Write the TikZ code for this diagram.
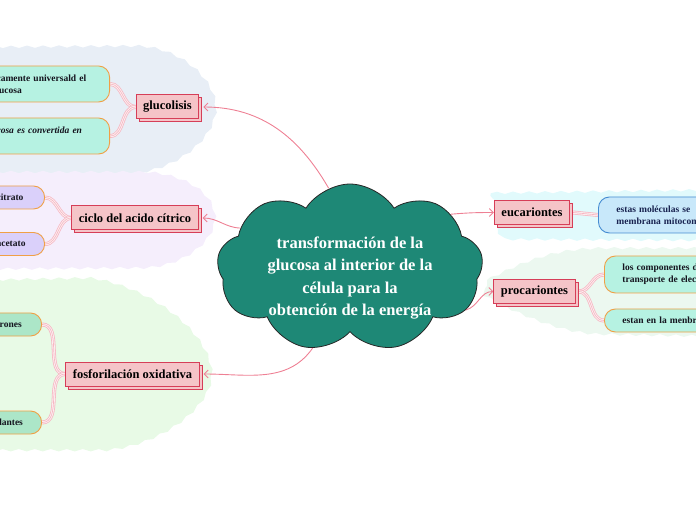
\documentclass[tikz,border=0pt]{standalone}
\usepackage{fontspec}
\setmainfont{Liberation Serif}
\usetikzlibrary{shapes.symbols, arrows.meta, shadows, decorations.pathmorphing, backgrounds}
\definecolor{corecolor}{RGB}{30,136,118}
\definecolor{topiccolor}{RGB}{245,196,200}
\definecolor{topicborder}{RGB}{214,62,88}
\definecolor{linkcolor}{RGB}{238,128,148}
\definecolor{leafborder}{RGB}{240,160,70}
\definecolor{mintleaf}{RGB}{182,242,226}
\definecolor{lilacleaf}{RGB}{218,208,250}
\definecolor{greenleaf}{RGB}{172,230,200}
\definecolor{blueleaf}{RGB}{200,232,250}
\definecolor{blueborder}{RGB}{70,140,210}
\definecolor{leaftext}{RGB}{20,20,30}
\definecolor{navytext}{RGB}{25,35,80}
\definecolor{bggluc}{RGB}{232,238,246}
\definecolor{bgciclo}{RGB}{245,238,252}
\definecolor{bgfosfo}{RGB}{232,250,230}
\definecolor{bgeuca}{RGB}{225,250,252}
\definecolor{bgproca}{RGB}{236,248,240}
\tikzset{
  core/.style={cloud, cloud puffs=9, cloud puff arc=115, aspect=1.55, minimum width=266pt, minimum height=168pt, fill=corecolor, draw=black!85, line width=0.8pt},
  coretext/.style={text=white, align=center, font=\bfseries\fontsize{16.5}{22.5}\selectfont},
  topic/.style={rectangle, fill=topiccolor, draw=topicborder, line width=1pt, minimum height=24pt, inner xsep=7pt, font=\bfseries\fontsize{12.5}{14}\selectfont, copy shadow={shadow xshift=3pt, shadow yshift=-3pt}},
  leaf/.style={rectangle, rounded corners=11pt, draw=leafborder, line width=0.9pt, align=left, inner xsep=16pt, inner ysep=2pt, text=leaftext, font=\bfseries\fontsize{9.5}{12}\selectfont},
  mintleaf/.style={leaf, fill=mintleaf},
  lilacleaf/.style={leaf, fill=lilacleaf},
  greenleaf/.style={leaf, fill=greenleaf},
  blueleaf/.style={leaf, fill=blueleaf, draw=blueborder, text=navytext},
  link/.style={-{Straight Barb[length=4pt, width=8pt]}, draw=linkcolor, line width=0.9pt},
  branch/.style={draw=linkcolor!55, line width=4pt, postaction={draw=linkcolor!12, line width=2.4pt}, postaction={draw=linkcolor!55, line width=0.7pt}},
  wavy/.style={decorate, decoration={snake, amplitude=1.2pt, segment length=16pt}}
}

\begin{document}
\begin{tikzpicture}[x=1pt, y=1pt]
  \useasboundingbox (0,0) rectangle (696,520);

  % fondos de cada rama
  \begin{scope}[on background layer]
    \fill[bggluc, wavy] (-10,473) -- (135,474) .. controls (178,472) and (212,440) .. (212,412) .. controls (212,382) and (172,347) .. (120,346) -- (-10,346) -- cycle;
    \fill[bgciclo, wavy] (-10,348) -- (140,348) .. controls (182,346) and (211,326) .. (211,302) .. controls (211,280) and (182,254) .. (140,252) -- (-10,251) -- cycle;
    \fill[bgfosfo, wavy] (-10,240) -- (90,242) .. controls (150,232) and (208,186) .. (208,146) .. controls (208,115) and (160,75) .. (100,70) -- (-10,70) -- cycle;
    \fill[bgeuca, wavy] (492,327) -- (706,330) -- (706,282) -- (492,283) .. controls (484,290) and (484,320) .. (492,327) -- cycle;
    \fill[bgproca, wavy] (487,240) .. controls (530,262) and (560,270) .. (600,270) -- (706,270) -- (706,178) -- (600,180) .. controls (560,182) and (520,200) .. (487,218) -- cycle;
  \end{scope}

  \node[core] (core) at (350,252) {};
  \node[coretext] (title) at (350,242) {transformación de la\\glucosa al interior de la\\célula para la\\obtención de la energía};

  \node[topic] (gluc)  at (167.5,413) {glucolisis};
  \node[topic] (ciclo) at (135,302)   {ciclo del acido cítrico};
  \node[topic] (fosfo) at (132.5,146) {fosforilación oxidativa};
  \node[topic] (euca)  at (532,307.5) {eucariontes};
  \node[topic] (proca) at (534.5,228.5) {procariontes};

  \node[mintleaf, anchor=east, text width=97pt, minimum height=36pt] (gluc1) at (110,436) {camente universald el\\lucosa};
  \node[mintleaf, anchor=east, text width=97pt, minimum height=36pt, font=\bfseries\itshape\fontsize{9.5}{12}\selectfont] (gluc2) at (110,384) {cosa es convertida en\\\mbox{}};
  \node[lilacleaf, anchor=east, text width=32pt, minimum height=23pt] (ciclo1) at (45,322.5) {citrato};
  \node[lilacleaf, anchor=east, text width=32pt, minimum height=23pt] (ciclo2) at (45,276) {acetato};
  \node[greenleaf, anchor=east, text width=29pt, minimum height=23pt] (fosfo1) at (42,195.5) {trones};
  \node[greenleaf, anchor=east, text width=29pt, minimum height=23pt] (fosfo2) at (42,97.5) {dantes};
  \node[blueleaf, anchor=west, text width=100pt, minimum height=36pt, inner xsep=18pt] (euca1) at (598,305) {estas moléculas se\\membrana mitocon};
  \node[mintleaf, anchor=west, text width=100pt, minimum height=37pt, inner xsep=18pt] (proca1) at (604,245.5) {los componentes d\\transporte de elec};
  \node[mintleaf, anchor=west, text width=100pt, minimum height=23pt, inner xsep=18pt] (proca2) at (604,199.5) {estan en la menbr};

  % conectores
  \begin{scope}[on background layer]
    \draw[link] (core.105) to[out=120, in=0] ([xshift=4pt]gluc.east);
    \draw[link] (core.160) to[out=178, in=0] ([xshift=4pt]ciclo.east);
    \draw[link] (core.245) to[out=235, in=0] ([xshift=4pt]fosfo.east);
    \draw[link] (core.28) to[out=5, in=180] (euca.west);
    \draw[link] (core.340) to[out=15, in=180] (proca.west);

    \draw[branch] (gluc.west) to[out=180, in=0] (gluc1.east);
    \draw[branch] (gluc.west) to[out=180, in=0] (gluc2.east);
    \draw[branch] (ciclo.west) to[out=180, in=0] (ciclo1.east);
    \draw[branch] (ciclo.west) to[out=180, in=0] (ciclo2.east);
    \draw[branch] (fosfo.west) to[out=180, in=0] (fosfo1.east);
    \draw[branch] (fosfo.west) to[out=180, in=0] (fosfo2.east);
    \draw[branch] ([xshift=3pt]euca.east) -- (euca1.west);
    \draw[branch] ([xshift=3pt]proca.east) to[out=0, in=180] (proca1.west);
    \draw[branch] ([xshift=3pt]proca.east) to[out=0, in=180] (proca2.west);
  \end{scope}
\end{tikzpicture}
\end{document}
